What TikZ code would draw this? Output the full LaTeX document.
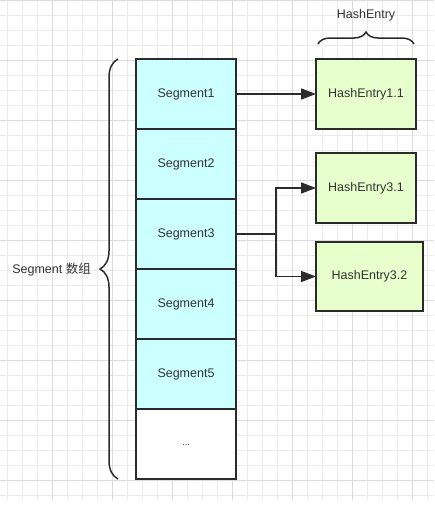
\documentclass[tikz,border=0pt]{standalone}
\usepackage{fontspec}
\setmainfont{Liberation Sans}
\newfontfamily\cjk{Noto Sans CJK SC}
\usetikzlibrary{positioning,arrows.meta,decorations.pathreplacing}
\definecolor{segfill}{HTML}{CCFFFF}
\definecolor{entryfill}{HTML}{E6FFCC}
\definecolor{inkline}{HTML}{2B2B2B}
\definecolor{inktext}{HTML}{333333}
\definecolor{gridlight}{HTML}{EBEBEB}
\definecolor{griddark}{HTML}{DCDCDC}
\tikzset{
    segbox/.style={draw=inkline, line width=1.5pt, fill=segfill, minimum width=100pt,
        minimum height=70pt, inner sep=0pt, outer sep=0pt, text=inktext,
        font=\fontsize{12.5}{15}\selectfont},
    entrybox/.style={segbox, fill=entryfill},
    link/.style={draw=inkline, line width=1.5pt, -{Triangle[length=15pt,width=11pt]}},
    curly/.style={draw=inkline, line width=1.5pt, decorate,
        decoration={brace, amplitude=#1}},
    label/.style={text=inktext, font=\fontsize{12.5}{15}\selectfont, inner sep=0pt},
}
\begin{document}
\begin{tikzpicture}[x=1pt, y=-1pt]
    \useasboundingbox (0,0) rectangle (434,509);
    % grid in the background
    \foreach \gx in {7,22,...,427}
        \draw[gridlight, line width=0.6pt] (\gx,0) -- (\gx,500);
    \foreach \gy in {0,15,...,495}
        \draw[gridlight, line width=0.6pt] (0,\gy) -- (434,\gy);
    \foreach \gx in {52,112,...,412}
        \draw[griddark, line width=0.8pt] (\gx,0) -- (\gx,500);
    \foreach \gy in {0,60,...,480}
        \draw[griddark, line width=0.8pt] (0,\gy) -- (434,\gy);

    % segment array
    \node[segbox] (seg1) at (186,94) {Segment1};
    \node[segbox, below=0pt of seg1] (seg2) {Segment2};
    \node[segbox, below=0pt of seg2] (seg3) {Segment3};
    \node[segbox, below=0pt of seg3] (seg4) {Segment4};
    \node[segbox, below=0pt of seg4] (seg5) {Segment5};
    \node[segbox, fill=white, below=0pt of seg5] (segdots) {\fontsize{9}{10}\selectfont\raisebox{-2pt}{...}};

    % hash entries
    \node[entrybox] (entry11) at (366,94) {HashEntry1.1};
    \node[entrybox] (entry31) at (366,188) {HashEntry3.1};
    \node[entrybox, minimum width=107pt, minimum height=69pt] (entry32) at (369.5,276.5) {HashEntry3.2};

    \coordinate (fork) at (276,234);
    \draw[link] (seg1) -- (entry11);
    \draw[draw=inkline, line width=1.5pt] (seg3.east |- fork) -- (fork);
    \draw[link] (fork) |- (entry31.west);
    \draw[link] (fork) |- (entry32.west);

    % braces and their labels
    \draw[curly=18pt] (118,479) -- (118,59);
    \node[label, anchor=east] (arraylabel) at (91,270) {Segment {\cjk 数组}};
    \draw[curly=12pt] (318,44) -- (414,44);
    \node[label] (entrylabel) at (366,15) {HashEntry};
\end{tikzpicture}
\end{document}
